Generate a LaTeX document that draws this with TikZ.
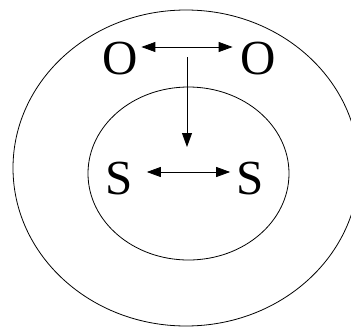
\documentclass[tikz,border=0pt]{standalone}
\usepackage{fontspec}
\setmainfont{Liberation Serif}
\usetikzlibrary{arrows.meta}

\begin{document}
\begin{tikzpicture}[
    x=1pt, y=-1pt,
    letter/.style={inner sep=2pt, font=\fontsize{49}{54}\selectfont},
    ring/.style={line width=0.8pt},
    arr/.style={-{Triangle[length=14pt, width=10pt]}, line width=0.8pt},
    dblarr/.style={{Triangle[length=14pt, width=10pt]}-{Triangle[length=14pt, width=10pt]}, line width=0.8pt},
]
    \useasboundingbox (0,0) rectangle (351,327);
    \clip (0,0) rectangle (351,327);

    % Rings
    \draw[ring] (186,168) ellipse [x radius=173pt, y radius=158pt];
    \draw[ring] (188.5,173.5) ellipse [x radius=100.5pt, y radius=86.5pt];

    % Nodes
    \node[letter] (oL) at (120.5,59) {O};
    \node[letter] (oR) at (258.5,59) {O};
    \node[letter] (sL) at (119,179) {S};
    \node[letter] (sR) at (250,179) {S};
    \coordinate (vtop) at (187,57);
    \coordinate (vbot) at (187,147);

    % Arrows
    \draw[dblarr, shorten <=1pt, shorten >=6pt] ([yshift=12pt]oL.east) -- ([yshift=12pt]oR.west);
    \draw[arr] (vtop) -- (vbot);
    \draw[dblarr, shorten <=12pt, shorten >=4pt] ([yshift=7pt]sL.east) -- ([yshift=7pt]sR.west);
\end{tikzpicture}
\end{document}
